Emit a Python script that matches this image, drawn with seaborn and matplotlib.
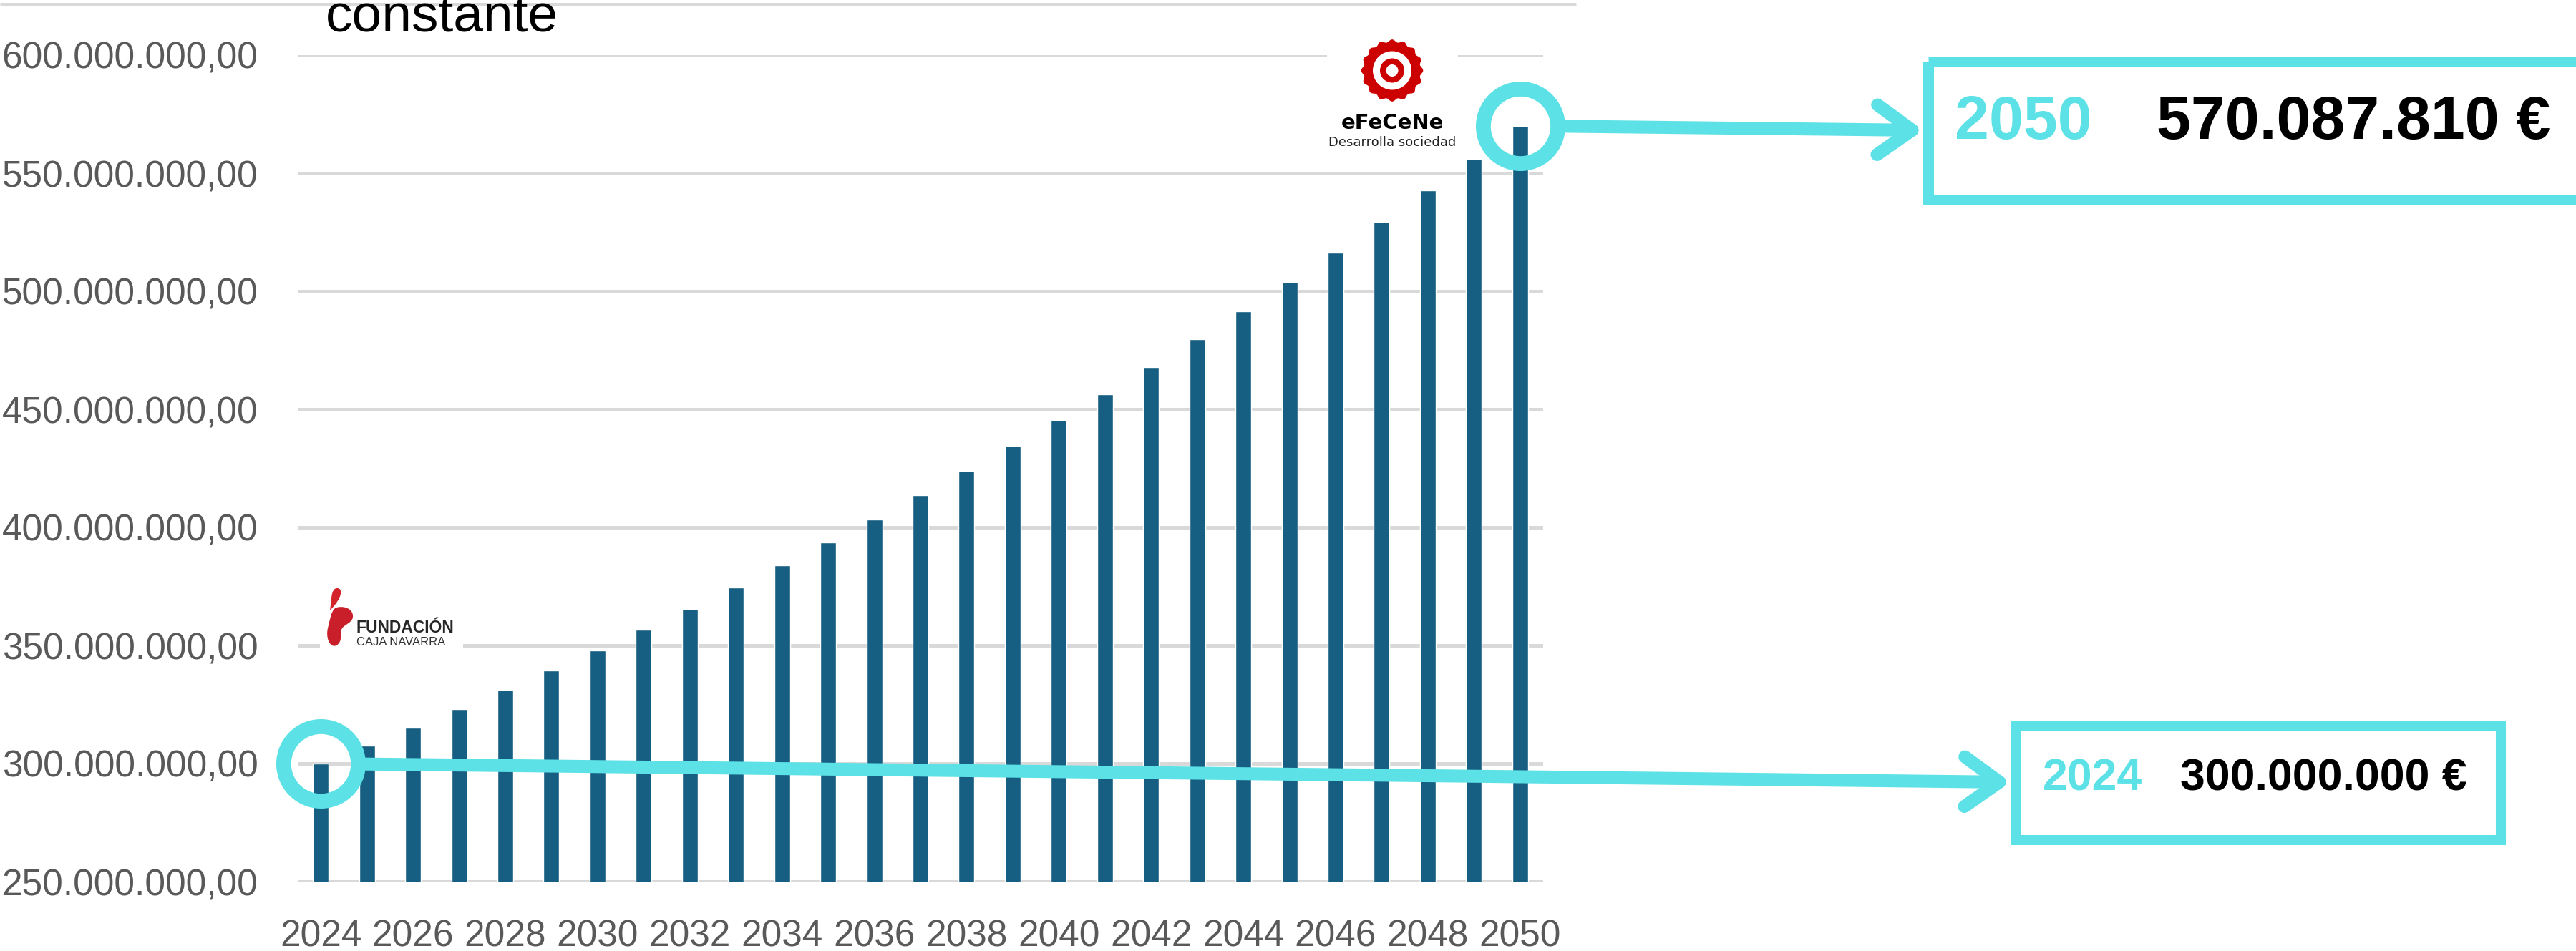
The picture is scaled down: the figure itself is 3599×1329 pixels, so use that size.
import matplotlib
matplotlib.use("Agg")
import matplotlib.pyplot as plt
import numpy as np
import seaborn as sns
from matplotlib.patches import Circle, PathPatch, Polygon, Rectangle
from matplotlib.path import Path
from matplotlib.ticker import FuncFormatter

sns.set_theme(style="white")
plt.rcParams["font.family"] = ["Liberation Sans", "DejaVu Sans"]

# data
years = [2024, 2025, 2026, 2027, 2028, 2029, 2030, 2031, 2032, 2033, 2034, 2035, 2036,
         2037, 2038, 2039, 2040, 2041, 2042, 2043, 2044, 2045, 2046, 2047, 2048, 2049, 2050]
values = [300000000, 307500000, 315187500, 323067188, 331143867, 339422464, 347908025,
          356605726, 365520869, 374658891, 384025363, 393625997, 403466647, 413553313,
          423892146, 434489449, 445351686, 456485478, 467897615, 479595055, 491584931,
          503874554, 516471418, 529383203, 542617783, 556183228, 570087810]
y_ticks = [250000000, 300000000, 350000000, 400000000, 450000000, 500000000, 550000000, 600000000]
title_text = "constante"

BAR = "#165e82"
CYAN = "#5ce1e6"
GRID = "#d9d9d9"
LABEL = "#595959"
W, H = 3599, 1329


def es_number(v, decimals=0):
    s = f"{v:,.{decimals}f}"
    return s.replace(",", "X").replace(".", ",").replace("X", ".")


fig = plt.figure(figsize=(W / 100, H / 100), dpi=100)
ax = fig.add_axes([416 / W, (H - 1232) / H, 1740 / W, 1155 / H])

sns.barplot(x=years, y=values, color=BAR, saturation=1, width=0.34, ax=ax, zorder=3)
ax.set_xlim(-0.5, len(years) - 0.5)
ax.set_ylim(y_ticks[0], y_ticks[-1])
ax.set_yticks(y_ticks)
ax.yaxis.set_major_formatter(FuncFormatter(lambda v, _: es_number(v, 2)))
ax.set_xticks(range(0, len(years), 2))
ax.set_xticklabels([str(y) for y in years[::2]])
ax.grid(axis="y", color=GRID, linewidth=3.6)
ax.grid(axis="x", visible=False)
ax.set_axisbelow(True)
for s in ax.spines.values():
    s.set_visible(False)
ax.tick_params(axis="y", length=0, pad=40, labelsize=37, labelcolor=LABEL)
ax.tick_params(axis="x", length=0, pad=38, labelsize=37, labelcolor=LABEL)
ax.set_xlabel("")
ax.set_ylabel("")

# overlay in pixel units for decorations
ov = fig.add_axes([0, 0, 1, 1])
ov.set_xlim(0, W)
ov.set_ylim(H, 0)
ov.axis("off")
ov.patch.set_alpha(0)

ov.plot([0, 2202], [6, 6], color=GRID, linewidth=3.6, solid_capstyle="butt")
ov.text(455, 44, title_text, fontsize=54, color="black", va="baseline", ha="left")

# callout rings around first and last bar
for i in (0, len(years) - 1):
    ax.plot([i], [values[i]], marker="o", markersize=75, markerfacecolor="none",
            markeredgecolor=CYAN, markeredgewidth=15, clip_on=False, zorder=6)

# boxes
ov.add_patch(Rectangle((2694.5, 85.5), 1000, 193, fill=False, edgecolor=CYAN,
                       linewidth=10.8, joinstyle="miter", zorder=5))
ov.add_patch(Rectangle((2816, 1014), 678, 160, fill=False, edgecolor=CYAN,
                       linewidth=10.1, joinstyle="miter", zorder=5))

arrow_kw = dict(arrowstyle="->,head_length=0.35,head_width=0.25", color=CYAN, lw=13,
                shrinkA=44, shrinkB=0, mutation_scale=100, capstyle="round", joinstyle="round")
ov.annotate("", xy=(2687, 182), xycoords=ov.transData,
            xytext=(len(years) - 1, values[-1]), textcoords=ax.transData,
            arrowprops=arrow_kw, annotation_clip=False, zorder=6)
ov.annotate("", xy=(2809, 1093), xycoords=ov.transData,
            xytext=(0, values[0]), textcoords=ax.transData,
            arrowprops=arrow_kw, annotation_clip=False, zorder=6)

ov.text(2731, 172, str(years[-1]), fontsize=62, fontweight="bold", color=CYAN,
        va="center", ha="left")
ov.text(3013, 172, es_number(values[-1]) + " €", fontsize=62, fontweight="bold",
        color="black", va="center", ha="left")
ov.text(2854, 1088, str(years[0]), fontsize=45, fontweight="bold", color=CYAN,
        va="center", ha="left")
ov.text(3046, 1088, es_number(values[0]) + " €", fontsize=45, fontweight="bold",
        color="black", va="center", ha="left")

# eFeCeNe logo
ov.add_patch(Rectangle((1854, 50), 183, 165, facecolor="white", edgecolor="none", zorder=2))
cx, cy = 1945, 98.5
theta = np.linspace(0, 2 * np.pi, 400)
r = 41.5 + 1.8 * np.cos(16 * theta)
ov.add_patch(Polygon(np.column_stack([cx + r * np.cos(theta), cy + r * np.sin(theta)]),
                     closed=True, facecolor="#cc0000", edgecolor="none", zorder=3))
for rad, col in ((27, "white"), (17, "#cc0000"), (8.5, "white")):
    ov.add_patch(Circle((cx, cy), rad, facecolor=col, edgecolor="none", zorder=3))
ov.text(1945, 172, "eFeCeNe", fontsize=21, fontweight="bold", family="DejaVu Sans",
        color="black", ha="center", va="center", zorder=4)
ov.text(1945, 199, "Desarrolla sociedad", fontsize=13, family="DejaVu Sans",
        color="#222222", ha="center", va="center", zorder=4)

# Fundación Caja Navarra logo
ov.add_patch(Rectangle((447, 813), 200, 100, facecolor="white", edgecolor="none", zorder=2))
drop = Path([(461, 853), (463, 840), (462, 822), (471, 822), (480, 822), (478, 836),
             (461, 853)],
            [Path.MOVETO, Path.CURVE4, Path.CURVE4, Path.CURVE4, Path.CURVE4, Path.CURVE4,
             Path.CURVE4])
ov.add_patch(PathPatch(drop, facecolor="#d3232b", edgecolor="none", zorder=3))
blob = Path([(468, 850), (475, 846), (492, 848), (493, 860), (494, 870), (482, 872),
             (478, 878), (474, 884), (480, 896), (470, 902), (460, 906), (455, 890),
             (458, 878), (461, 866), (462, 856), (468, 850)],
            [Path.MOVETO] + [Path.CURVE4] * 15)
ov.add_patch(PathPatch(blob, facecolor="#c81f2a", edgecolor="none", zorder=3))
ov.text(498, 877, "FUNDACIÓN", fontsize=16.5, fontweight="bold", color="#262626",
        ha="left", va="center", zorder=4)
ov.text(498, 898, "CAJA NAVARRA", fontsize=12, color="#333333",
        ha="left", va="center", zorder=4)

fig.savefig("out.png", dpi=100)
